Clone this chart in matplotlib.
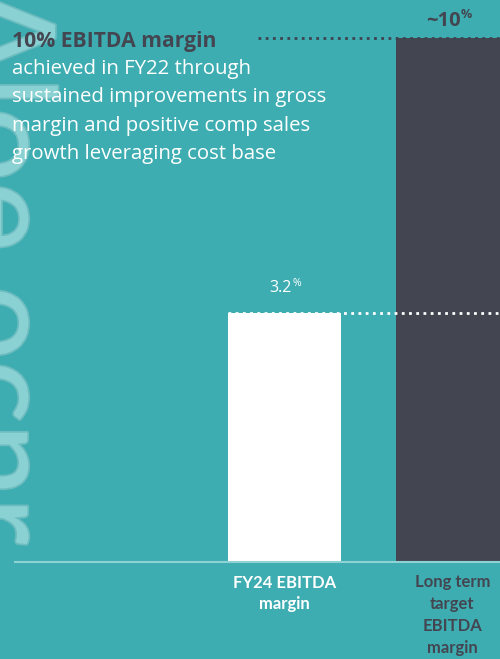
import matplotlib
matplotlib.use("Agg")
import matplotlib.pyplot as plt
import matplotlib.patheffects as pe

# ---- data ----
categories = ["FY24 EBITDA\nmargin", "Long term\ntarget\nEBITDA\nmargin"]
bar_heights = [3.2, 6.73]          # displayed heights (chart is not to scale)
value_labels = ["3.2", "~10"]
bar_colors = ["#ffffff", "#434650"]
label_colors = ["#ffffff", "#434650"]
headline_bold = "10% EBITDA margin"
headline_body = ["achieved in FY22 through",
                 "sustained improvements in gross",
                 "margin and positive comp sales",
                 "growth leveraging cost base"]

BG = "#3eadb2"
DARK = "#434650"
FONT = "Open Sans"

fig = plt.figure(figsize=(5.0, 6.59), dpi=100, facecolor=BG)

# watermark (decorative, rotated, clipped at left edge)
fig.text(-0.125, 1.02, "Aloe ocnr", rotation=-90, fontsize=95, family="Lato",
         color="#8ad1d3", ha="left", va="top",
         path_effects=[pe.withStroke(linewidth=2.5, foreground="#6dbcbf")], zorder=0)

ax = fig.add_axes([0, (659 - 562) / 659, 1, 562 / 659])
ax.set_facecolor("none")
for s in ax.spines.values():
    s.set_visible(False)
ax.set_xticks([]); ax.set_yticks([])
ax.set_xlim(-284.5 / 168, 1 + 47.5 / 168)
ax.set_ylim(0, 562 / (249 / 3.2))

xs = list(range(len(categories)))
ax.bar(xs, bar_heights, width=113 / 168, color=bar_colors, zorder=2)

# baseline
ax.axhline(0, xmin=15 / 500, xmax=1, color="#8fd2d3", lw=1.5, zorder=3, clip_on=False)

# dotted reference lines
ax.plot([xs[0] - 113 / 336, 1.3], [bar_heights[0]] * 2, color="white",
        lw=2, linestyle=(0, (1, 1.6)), zorder=4, clip_on=True)
ax.plot([-0.158, 1.3], [bar_heights[1]] * 2, color="#3d4450",
        lw=2, linestyle=(0, (1, 1.6)), zorder=4, clip_on=True)

# value labels
ax.annotate(value_labels[0], (xs[0], bar_heights[0]), xytext=(-11, 12),
            textcoords="offset points", ha="left", va="bottom",
            fontsize=11.5, color="white", family=FONT)
ax.annotate("%", (xs[0], bar_heights[0]), xytext=(5.5, 17.5),
            textcoords="offset points", ha="left", va="bottom",
            fontsize=7.5, color="white", family=FONT)
ax.annotate(value_labels[1], (xs[1], bar_heights[1]), xytext=(-19, 5.5),
            textcoords="offset points", ha="left", va="bottom",
            fontsize=14.5, color=DARK, family=FONT, fontweight="bold")
ax.annotate("%", (xs[1], bar_heights[1]), xytext=(6, 12.5),
            textcoords="offset points", ha="left", va="bottom",
            fontsize=9, color=DARK, family=FONT, fontweight="bold")

# category labels
for x, lab, c in zip(xs, categories, label_colors):
    ax.annotate(lab, (x, 0), xytext=(0, -9), textcoords="offset points",
                ha="center", va="top", fontsize=12, color=c, family="Lato",
                fontweight="bold", linespacing=1.45)

# headline text
fig.text(12 / 500, 1 - 42 / 659, headline_bold, fontsize=15.2, fontweight="bold",
         color=DARK, family=FONT, ha="left", va="center")
for i, line in enumerate(headline_body):
    fig.text(12 / 500, 1 - (69 + 28.3 * i) / 659, line, fontsize=14.7,
             color="white", family=FONT, ha="left", va="center")

fig.savefig("out.png", dpi=100, facecolor=BG)
